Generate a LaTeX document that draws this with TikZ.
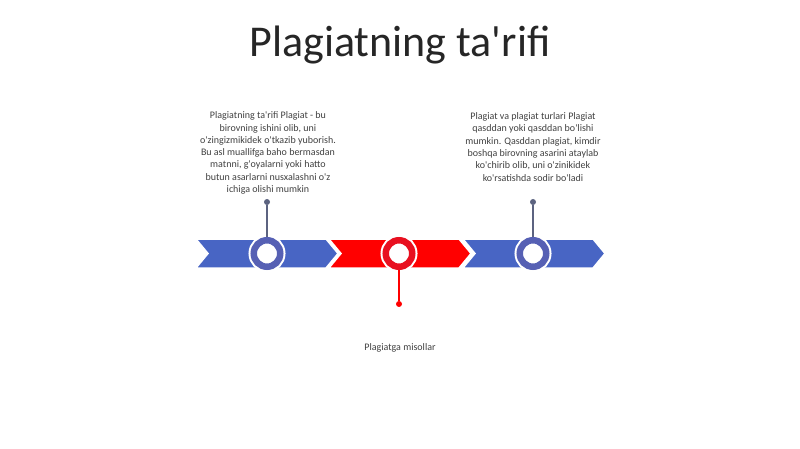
\documentclass[tikz,border=0pt]{standalone}
\usepackage{fontspec}
\setmainfont{Carlito}[Ligatures=TeXOff]
\definecolor{plagblue}{RGB}{72, 101, 196}
\definecolor{plagring}{RGB}{86, 96, 180}
\definecolor{plagred}{RGB}{255, 0, 0}
\definecolor{plagredring}{RGB}{232, 16, 32}
\definecolor{plaggray}{RGB}{64, 64, 64}
\definecolor{plagpin}{RGB}{92, 99, 128}
\usepackage{tikz}

\begin{document}
\begin{tikzpicture}[x=1pt, y=-1pt,
  stop/.style={circle, draw=#1, line width=6.5pt, fill=white, minimum size=26.5pt, inner sep=0pt,
    preaction={draw=white, line width=10.5pt}},
  pin/.style={circle, fill=#1, minimum size=6pt, inner sep=0pt},
  note/.style={text=plaggray, align=center, font=\fontsize{10}{12.3}\selectfont}]
\useasboundingbox (0,0) rectangle (800,449);

% Title
\node[text=black!85, font=\fontsize{44}{50}\selectfont] (title) at (400,45) {Plagiatning ta'rifi};

% Chevron band
\filldraw[fill=plagblue, draw=white, line width=1.5pt] (196,239) -- (326,239) -- (338,253.5) -- (326,268) -- (196,268) -- (208,253.5) -- cycle;
\filldraw[fill=plagred, draw=white, line width=1.5pt] (329,239) -- (459,239) -- (471,253.5) -- (459,268) -- (329,268) -- (341,253.5) -- cycle;
\filldraw[fill=plagblue, draw=white, line width=1.5pt] (463,239) -- (593,239) -- (605,253.5) -- (593,268) -- (463,268) -- (475,253.5) -- cycle;

% Stops on the band
\node[stop=plagring] (def) at (267,253.5) {};
\node[stop=plagredring] (ex) at (399,253.5) {};
\node[stop=plagring] (kind) at (533,253.5) {};

% Pins
\node[pin=plagpin] (defpin) at (267,202) {};
\node[pin=plagred] (expin) at (399,304) {};
\node[pin=plagpin] (kindpin) at (533,202) {};
\draw[plagpin, line width=1.5pt] (defpin) -- (def);
\draw[plagred, line width=1.5pt] (expin) -- (ex);
\draw[plagpin, line width=1.5pt] (kindpin) -- (kind);

% Texts
\node[note] (deftext) at (268,153) {Plagiatning ta'rifi Plagiat - bu\\
  birovning ishini olib, uni\\
  o'zingizmikidek o'tkazib yuborish.\\
  Bu asl muallifga baho bermasdan\\
  matnni, g'oyalarni yoki hatto\\
  butun asarlarni nusxalashni o'z\\
  ichiga olishi mumkin};
\node[note] (kindtext) at (533,147) {Plagiat va plagiat turlari Plagiat\\
  qasddan yoki qasddan bo'lishi\\
  mumkin. Qasddan plagiat, kimdir\\
  boshqa birovning asarini ataylab\\
  ko'chirib olib, uni o'zinikidek\\
  ko'rsatishda sodir bo'ladi};
\node[note] (extext) at (400,348) {Plagiatga misollar};
\end{tikzpicture}
\end{document}
